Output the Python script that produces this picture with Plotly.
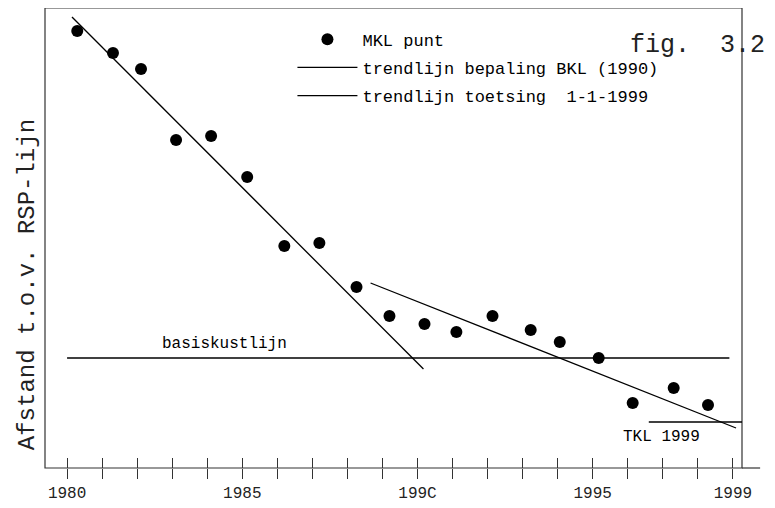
import plotly.graph_objects as go

# MKL punten (jaar, afstand t.o.v. RSP-lijn, willekeurige eenheid)
mkl_jaar = [1980.29, 1981.31, 1982.11, 1983.11, 1984.11, 1985.14, 1986.2, 1987.2,
            1988.26, 1989.2, 1990.2, 1991.11, 1992.14, 1993.23, 1994.06, 1995.17,
            1996.14, 1997.31, 1998.29]
mkl_afstand = [437, 415, 399, 328, 332, 291, 222, 225, 181, 152, 144, 136, 152, 138,
               126, 110, 65, 80, 63]

# trendlijnen (eindpunten)
bkl_trend_jaar = [1980.14, 1990.17]
bkl_trend_afstand = [451, 99]
toets_trend_jaar = [1988.66, 1999.09]
toets_trend_afstand = [185, 40]

# basiskustlijn en TKL
bkl_jaar = [1980.0, 1998.9]
bkl_afstand = [110, 110]
tkl_jaar = [1996.6, 1999.37]
tkl_afstand = [46, 46]

tick_jaren = list(range(1980, 2000))
tick_labels = ["1980" if j == 1980 else "1985" if j == 1985 else "199C" if j == 1990
               else "1995" if j == 1995 else "1999" if j == 1999 else "" for j in tick_jaren]

FONT = "Liberation Mono, Courier New, monospace"
x_range = [1979.37, 1999.26]
y_range = [0, 460]

fig = go.Figure()
fig.add_trace(go.Scatter(x=mkl_jaar, y=mkl_afstand, mode="markers", name="MKL punt",
                         legendgroup="a",
                         marker=dict(color="black", size=12)))
fig.add_trace(go.Scatter(x=bkl_trend_jaar, y=bkl_trend_afstand, mode="lines",
                         name="trendlijn bepaling BKL (1990)", legendgroup="b",
                         line=dict(color="black", width=1.3)))
fig.add_trace(go.Scatter(x=toets_trend_jaar, y=toets_trend_afstand, mode="lines",
                         name="trendlijn toetsing  1-1-1999", legendgroup="c",
                         line=dict(color="black", width=1.3)))
fig.add_trace(go.Scatter(x=bkl_jaar, y=bkl_afstand, mode="lines", showlegend=False,
                         line=dict(color="black", width=1.3)))
fig.add_trace(go.Scatter(x=tkl_jaar, y=tkl_afstand, mode="lines", showlegend=False,
                         line=dict(color="black", width=1.3)))
# dummy trace on overlay axis for inward ticks
fig.add_trace(go.Scatter(x=[None], y=[None], xaxis="x2", showlegend=False))

fig.add_annotation(x=1984.5, y=bkl_afstand[0], yshift=14, text="basiskustlijn",
                   showarrow=False, font=dict(family=FONT, size=16, color="black"))
fig.add_annotation(x=1996.95, y=tkl_afstand[0], yshift=-15, text="TKL 1999",
                   showarrow=False, font=dict(family=FONT, size=16, color="black"))
fig.add_annotation(xref="paper", yref="paper", x=1.036, y=0.955, xanchor="right",
                   yanchor="top", text="fig.  3.2", showarrow=False,
                   font=dict(family=FONT, size=25, color="#222"))
fig.add_annotation(xref="paper", yref="paper", x=-0.024, y=0.398, xanchor="center",
                   yanchor="middle", textangle=-90, text="Afstand t.o.v. RSP-lijn",
                   showarrow=False, font=dict(family=FONT, size=24, color="#222"))

# frame
fig.add_shape(type="rect", xref="paper", yref="paper", x0=0, x1=1, y0=0, y1=1,
              line=dict(color="#333", width=1.2), layer="below")
fig.add_shape(type="line", xref="paper", yref="paper", x0=1, x1=1.026, y0=0, y1=0,
              line=dict(color="#333", width=1.2), layer="below")

# page body adds an 8px offset, so the figure is sized to fit the window
fig.update_layout(
    width=767, height=500,
    margin=dict(l=37, r=33, t=0, b=40, autoexpand=False),
    paper_bgcolor="white", plot_bgcolor="white",
    font=dict(family=FONT, size=16, color="black"),
    showlegend=True,
    legend=dict(x=0.355, y=0.97, xanchor="left", yanchor="top",
                bgcolor="rgba(0,0,0,0)", font=dict(family=FONT, size=17),
                itemwidth=60, tracegroupgap=3),
    xaxis=dict(range=x_range, tickmode="array", tickvals=tick_jaren, ticktext=tick_labels,
               ticks="outside", ticklen=10, tickcolor="#333", showgrid=False,
               zeroline=False, showline=False, automargin=False,
               tickfont=dict(family=FONT, size=16, color="#222")),
    xaxis2=dict(range=x_range, overlaying="x", side="bottom", tickmode="array",
                tickvals=tick_jaren, ticks="inside", ticklen=10, tickcolor="#333",
                showticklabels=False, showgrid=False, zeroline=False, showline=False,
                automargin=False),
    yaxis=dict(range=y_range, showticklabels=False, ticks="", showgrid=False,
               zeroline=False, showline=False, automargin=False),
)

fig.write_html("out.html")
